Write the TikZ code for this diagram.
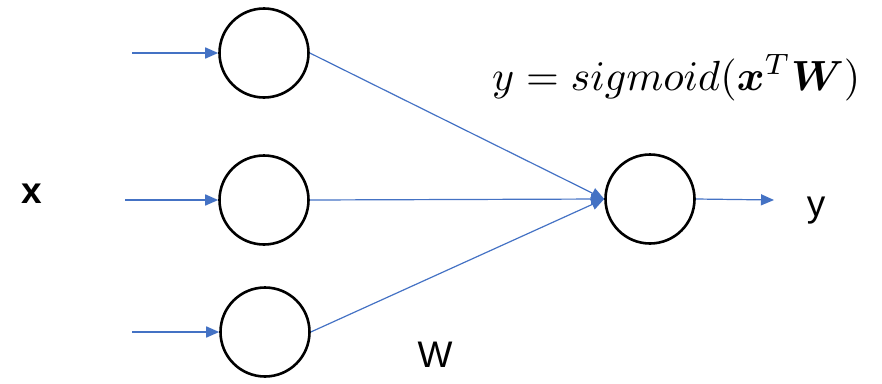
\documentclass[tikz,border=0pt]{standalone}
\usepackage{fontspec}
\setmainfont{Liberation Sans}
\usepackage{amsmath,bm}
\usetikzlibrary{arrows.meta}
\definecolor{lineblue}{HTML}{4472C4}
\begin{document}
\begin{tikzpicture}[x=1pt,y=-1pt,
  neuron/.style={circle,draw=black,line width=2.6pt,minimum size=89pt,inner sep=0pt},
  wire/.style={draw=lineblue,line width=1.2pt,-{Triangle[length=13pt,width=11pt]}},
  inwire/.style={draw=lineblue,line width=1.6pt,-{Triangle[length=13pt,width=11pt]}},
  lbl/.style={font=\fontsize{37}{40}\selectfont,inner sep=0pt,anchor=base}]
\useasboundingbox (0,0) rectangle (882,383);
\node[neuron] (i1) at (264,53) {};
\node[neuron] (i2) at (264,200) {};
\node[neuron] (i3) at (265,332) {};
\node[neuron] (o) at (650,199) {};
\coordinate (s1) at (132,53);
\coordinate (s2) at (125,200);
\coordinate (s3) at (132,332);
\coordinate (e) at (774,200);
\draw[inwire] (s1) -- (i1.west);
\draw[inwire] (s2) -- (i2.west);
\draw[inwire] (s3) -- (i3.west);
\draw[wire] (i1.east) -- (o.west);
\draw[wire] (i2.east) -- (o.west);
\draw[wire] (i3.east) -- (o.west);
\draw[wire] (o.east) -- (e);
\node[lbl,font=\fontsize{37}{40}\selectfont\bfseries] (xl) at (32,203) {x};
\node[lbl] (yl) at (816,216) {y};
\node[lbl] (wl) at (435,367) {W};
\node[inner sep=0pt,anchor=base west] (f) at (492,90) {\resizebox{368pt}{!}{$y = sigmoid(\bm{x}^T\bm{W})$}};
\end{tikzpicture}
\end{document}
